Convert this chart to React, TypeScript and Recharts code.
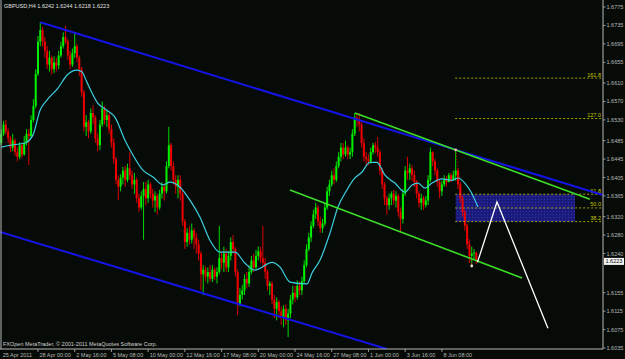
import {
  Bar,
  ComposedChart,
  Line,
  ReferenceArea,
  ReferenceDot,
  ReferenceLine,
  XAxis,
  YAxis,
} from "recharts"

// prices are stored as the last four digits (6500 -> 1.6500)
const px = (v: number) => 1 + v / 10000

const firstOpen = 6480
const high = [
  6510, 6528, 6530, 6512, 6495, 6500, 6490, 6470, 6482, 6480, 6495, 6510, 6510, 6540, 6575, 6640,
  6712, 6742, 6732, 6710, 6690, 6680, 6670, 6668, 6665, 6680, 6700, 6720, 6734, 6705, 6680, 6685,
  6718, 6695, 6670, 6645, 6595, 6540, 6530, 6555, 6562, 6540, 6500, 6530, 6570, 6560, 6550, 6545,
  6520, 6490, 6450, 6410, 6412, 6428, 6430, 6435, 6460, 6420, 6415, 6405, 6370, 6375, 6395, 6395,
  6400, 6395, 6380, 6375, 6370, 6378, 6395, 6392, 6440, 6515, 6480, 6440, 6410, 6410, 6410, 6375,
  6315, 6295, 6300, 6305, 6295, 6285, 6270, 6245, 6215, 6212, 6210, 6215, 6215, 6210, 6210, 6300,
  6245, 6255, 6250, 6245, 6275, 6280, 6255, 6205, 6165, 6172, 6195, 6200, 6215, 6235, 6240, 6248,
  6255, 6255, 6300, 6230, 6205, 6180, 6180, 6150, 6145, 6140, 6125, 6128, 6130, 6120, 6150, 6170,
  6170, 6182, 6180, 6190, 6225, 6260, 6285, 6310, 6335, 6350, 6345, 6320, 6315, 6350, 6385, 6400,
  6420, 6425, 6440, 6460, 6480, 6480, 6485, 6475, 6470, 6510, 6545, 6545, 6545, 6525, 6490, 6460,
  6455, 6470, 6480, 6482, 6493, 6465, 6425, 6395, 6365, 6370, 6375, 6378, 6375, 6370, 6340, 6380,
  6430, 6450, 6435, 6432, 6420, 6400, 6375, 6370, 6365, 6365, 6410, 6470, 6462, 6445, 6425, 6400,
  6398, 6410, 6408, 6415, 6415, 6420, 6465, 6425, 6395, 6365, 6335, 6305, 6270, 6255, 6250, 6244,
]
const low = [
  6475, 6495, 6498, 6480, 6460, 6462, 6452, 6440, 6445, 6448, 6452, 6475, 6432, 6490, 6525, 6555,
  6625, 6690, 6690, 6665, 6640, 6635, 6628, 6632, 6635, 6640, 6665, 6685, 6695, 6660, 6640, 6645,
  6665, 6655, 6625, 6580, 6505, 6495, 6490, 6500, 6520, 6480, 6462, 6465, 6515, 6520, 6515, 6500,
  6470, 6435, 6390, 6356, 6375, 6390, 6385, 6395, 6400, 6380, 6370, 6350, 6330, 6335, 6270, 6345,
  6350, 6360, 6340, 6330, 6325, 6335, 6360, 6355, 6370, 6425, 6420, 6390, 6370, 6360, 6355, 6300,
  6250, 6255, 6260, 6262, 6250, 6240, 6225, 6160, 6150, 6180, 6175, 6180, 6178, 6182, 6175, 6195,
  6205, 6200, 6200, 6200, 6225, 6240, 6190, 6106, 6125, 6140, 6150, 6165, 6168, 6195, 6200, 6205,
  6225, 6220, 6210, 6185, 6160, 6150, 6130, 6100, 6095, 6100, 6085, 6080, 6085, 6059, 6100, 6130,
  6135, 6140, 6150, 6150, 6175, 6210, 6245, 6265, 6295, 6315, 6300, 6285, 6285, 6300, 6335, 6365,
  6385, 6390, 6395, 6425, 6440, 6445, 6450, 6445, 6445, 6450, 6495, 6515, 6505, 6470, 6440, 6430,
  6432, 6435, 6455, 6458, 6450, 6410, 6380, 6345, 6325, 6335, 6345, 6345, 6340, 6320, 6285, 6305,
  6365, 6400, 6400, 6398, 6385, 6360, 6340, 6335, 6335, 6340, 6345, 6395, 6430, 6410, 6385, 6360,
  6365, 6385, 6385, 6395, 6395, 6400, 6398, 6380, 6350, 6320, 6290, 6250, 6220, 6213, 6228, 6218,
]
const close = [
  6500, 6520, 6505, 6490, 6470, 6485, 6460, 6450, 6475, 6455, 6480, 6500, 6495, 6530, 6560, 6630,
  6700, 6725, 6700, 6680, 6650, 6665, 6640, 6655, 6648, 6670, 6690, 6710, 6700, 6670, 6650, 6675,
  6690, 6665, 6640, 6590, 6515, 6525, 6505, 6545, 6535, 6490, 6475, 6520, 6555, 6530, 6540, 6510,
  6480, 6445, 6400, 6385, 6405, 6420, 6400, 6425, 6410, 6390, 6400, 6360, 6340, 6365, 6380, 6360,
  6390, 6370, 6355, 6365, 6340, 6370, 6385, 6375, 6430, 6475, 6430, 6400, 6385, 6400, 6370, 6310,
  6265, 6285, 6270, 6290, 6275, 6260, 6240, 6195, 6205, 6190, 6200, 6185, 6205, 6190, 6200, 6230,
  6220, 6240, 6210, 6235, 6265, 6250, 6200, 6130, 6150, 6160, 6185, 6175, 6200, 6225, 6210, 6235,
  6245, 6230, 6220, 6200, 6170, 6175, 6140, 6120, 6135, 6115, 6100, 6120, 6095, 6110, 6140, 6155,
  6145, 6170, 6160, 6180, 6215, 6250, 6275, 6300, 6325, 6340, 6310, 6295, 6305, 6340, 6375, 6390,
  6410, 6400, 6430, 6450, 6470, 6455, 6470, 6455, 6460, 6500, 6535, 6530, 6520, 6480, 6450, 6445,
  6440, 6460, 6475, 6470, 6460, 6420, 6390, 6360, 6345, 6360, 6370, 6355, 6365, 6330, 6315, 6370,
  6420, 6415, 6425, 6410, 6395, 6370, 6350, 6360, 6345, 6355, 6400, 6460, 6440, 6420, 6395, 6375,
  6390, 6400, 6395, 6410, 6400, 6410, 6420, 6390, 6360, 6330, 6300, 6260, 6235, 6240, 6242, 6223,
]

// moving average, read at points along the cyan line
const maBar = [
  0, 3.8, 10.3, 13.8, 16.9, 19.9, 24.7, 28.6, 33, 35.2, 37.3, 42.1, 46, 49.5, 53.9, 56.1, 61.7,
  66.1, 70.5, 73.5, 77.9, 82.2, 86.6, 90.9, 95.3, 101.8, 106.2, 110.5, 118, 121.4, 125.8, 133.2,
  135.4, 138.9, 143.2, 146.7, 150.6, 154.1, 157.2, 160.6, 163.7, 167.2, 171.5, 175.9, 179, 181.6,
  184.6, 187.7, 192, 196.4, 199, 202, 205, 207.7,
]
const maPips = [
  6471, 6475, 6480, 6497, 6551, 6573, 6599, 6627, 6638, 6634, 6612, 6566, 6551, 6536, 6486, 6465,
  6421, 6406, 6389, 6395, 6384, 6356, 6319, 6269, 6243, 6243, 6219, 6204, 6221, 6211, 6178, 6174,
  6198, 6226, 6284, 6341, 6378, 6404, 6417, 6438, 6438, 6410, 6393, 6373, 6389, 6393, 6382, 6393,
  6402, 6399, 6404, 6393, 6371, 6341,
]

// projection drawn in white
const projBar = [207.5, 216, 238.2]
const projPips = [6221, 6352, 6078]

// fibonacci retracement
const fibHigh = 6465
const fibLow = 6213
const fibLevels = [38.2, 50, 61.8, 127, 161.8]

const priceTicks = [
  6775, 6735, 6695, 6655, 6610, 6570, 6530, 6485, 6445, 6405, 6365, 6320, 6280, 6240, 6155, 6115,
  6075, 6035,
]
const timeBars = [0, 16, 32, 48, 64, 80, 96, 112, 128, 144, 160, 176, 192]
const timeLabels = [
  "25 Apr 2011",
  "28 Apr 00:00",
  "2 May 16:00",
  "5 May 08:00",
  "10 May 00:00",
  "12 May 16:00",
  "17 May 08:00",
  "20 May 00:00",
  "24 May 16:00",
  "27 May 08:00",
  "1 Jun 00:00",
  "3 Jun 16:00",
  "8 Jun 08:00",
]

const BG = "#070b07"
const AXIS = "#b8b8b8"
const FONT = "'Liberation Sans', Arial, sans-serif"
const FS = 5.5

const candles = close.map((c, i) => ({
  i,
  o: px(i === 0 ? firstOpen : close[i - 1]),
  h: px(high[i]),
  l: px(low[i]),
  c: px(c),
}))
const maRows = maBar.map((b, k) => ({ i: b, v: px(maPips[k]) }))
const projRows = projBar.map((b, k) => ({ i: b, v: px(projPips[k]) }))
const fibPrice = (lvl: number) => px(fibLow + ((fibHigh - fibLow) * lvl) / 100)

function Candle(props: any) {
  const { x, y, width, height, payload } = props
  if (!payload || height == null || isNaN(y)) return null
  const { o, h, l, c } = payload
  const top = Math.min(y, y + height)
  const span = Math.abs(height)
  const k = span / (h - l)
  const cx = x + width / 2
  const yo = top + (h - o) * k
  const yc = top + (h - c) * k
  const color = c >= o ? "#00f000" : "#f00000"
  const bt = Math.min(yo, yc)
  const bh = Math.max(Math.abs(yo - yc), 0.8)
  return (
    <g>
      <line x1={cx} x2={cx} y1={top} y2={top + span} stroke={color} strokeWidth={0.9} />
      <rect x={cx - 1} y={bt} width={2} height={bh} fill={color} />
    </g>
  )
}

function TimeTick(props: any) {
  const { x, y, payload } = props
  const label = timeLabels[timeBars.indexOf(payload.value)]
  return (
    <g>
      {payload.value > 0 && <line x1={x} x2={x} y1={y} y2={y + 3} stroke={AXIS} strokeWidth={0.8} />}
      <text x={x + 1.5} y={y + 8} fontSize={FS} fontFamily={FONT} fill={AXIS}>
        {label}
      </text>
    </g>
  )
}

function PriceTick(props: any) {
  const { x, y, payload } = props
  return (
    <g>
      <line x1={x} x2={x + 2.5} y1={y} y2={y} stroke={AXIS} strokeWidth={0.8} />
      <text x={x + 3.5} y={y + 2} fontSize={FS} fontFamily={FONT} fill={AXIS}>
        {payload.value.toFixed(4)}
      </text>
    </g>
  )
}

function PriceBox(props: any) {
  const vb = props.viewBox
  if (!vb) return null
  const x = vb.x + vb.width + 1
  return (
    <g>
      <rect x={x} y={vb.y - 3.5} width={20} height={7} fill="#f4f4f4" />
      <text x={x + 1.5} y={vb.y + 2} fontSize={FS} fontFamily={FONT} fill="#000">
        1.6223
      </text>
    </g>
  )
}

function fibLabel(text: string) {
  return (p: any) => {
    const vb = p.viewBox
    if (!vb) return null
    return (
      <text
        x={vb.x + vb.width - 2}
        y={vb.y - 1.5}
        textAnchor="end"
        fontSize={FS}
        fontFamily={FONT}
        fill="#c8c800"
      >
        {text}
      </text>
    )
  }
}

export default function App() {
  return (
    <div
      style={{ position: "absolute", left: 0, top: 0, width: 625, height: 359, background: BG }}
    >
      <ComposedChart
        width={625}
        height={359}
        data={candles}
        margin={{ top: 0, right: 0, bottom: 0, left: 0 }}
      >
        <defs>
          <pattern id="fibDots" width="3" height="3" patternUnits="userSpaceOnUse">
            <rect width="3" height="3" fill="#1a1a7c" />
            <rect x="1" y="1" width="1" height="1" fill="#3636a6" />
          </pattern>
        </defs>
        <XAxis
          type="number"
          dataKey="i"
          domain={[-0.56, 262.2]}
          allowDataOverflow
          ticks={timeBars}
          interval={0}
          tick={<TimeTick />}
          tickLine={false}
          tickSize={0}
          tickMargin={0}
          axisLine={{ stroke: AXIS }}
          height={10}
        />
        <YAxis
          orientation="right"
          type="number"
          domain={[1.60329, 1.67902]}
          allowDataOverflow
          ticks={priceTicks.map(px)}
          interval={0}
          tick={<PriceTick />}
          tickLine={false}
          tickSize={0}
          tickMargin={0}
          axisLine={{ stroke: AXIS }}
          width={22}
        />
        <ReferenceArea
          x1={198}
          x2={250}
          y1={fibPrice(38.2)}
          y2={fibPrice(61.8)}
          fill="url(#fibDots)"
          fillOpacity={1}
          stroke="none"
        />
        {fibLevels.map((lvl) => (
          <ReferenceLine
            key={lvl}
            segment={[
              { x: 197.8, y: fibPrice(lvl) },
              { x: 262.2, y: fibPrice(lvl) },
            ]}
            stroke="#b4b400"
            strokeDasharray="2 2"
            strokeWidth={0.9}
            label={fibLabel(lvl.toFixed(1))}
          />
        ))}
        <Bar
          dataKey={(d: any) => [d.l, d.h]}
          barSize={2}
          shape={(p: any) => <Candle {...p} />}
          isAnimationActive={false}
        />
        <Line
          data={maRows}
          dataKey="v"
          type="monotone"
          stroke="#3ccfe0"
          strokeWidth={1.2}
          dot={false}
          activeDot={false}
          isAnimationActive={false}
        />
        <ReferenceLine
          segment={[
            { x: 17, y: px(6742) },
            { x: 262.2, y: px(6367) },
          ]}
          stroke="#1414e6"
          strokeWidth={2}
          ifOverflow="hidden"
        />
        <ReferenceLine
          segment={[
            { x: -0.56, y: px(6287) },
            { x: 168, y: px(6033) },
          ]}
          stroke="#1414e6"
          strokeWidth={2}
          ifOverflow="hidden"
        />
        <ReferenceLine
          segment={[
            { x: 154.1, y: px(6545) },
            { x: 256.5, y: px(6358) },
          ]}
          stroke="#3cdc28"
          strokeWidth={1.6}
          ifOverflow="hidden"
        />
        <ReferenceLine
          segment={[
            { x: 125.8, y: px(6378) },
            { x: 226.9, y: px(6187) },
          ]}
          stroke="#3cdc28"
          strokeWidth={1.6}
          ifOverflow="hidden"
        />
        <ReferenceLine
          segment={[
            { x: 198, y: px(fibHigh) },
            { x: 205, y: px(fibLow) },
          ]}
          stroke="#e00000"
          strokeDasharray="1 2"
          strokeWidth={1}
        />
        <Line
          data={projRows}
          dataKey="v"
          type="linear"
          stroke="#ffffff"
          strokeWidth={1.3}
          dot={false}
          activeDot={false}
          isAnimationActive={false}
        />
        <ReferenceDot x={198} y={px(fibHigh)} r={1.4} fill="#ffb4b4" stroke="none" />
        <ReferenceDot x={205} y={px(fibLow)} r={1.4} fill="#ffd0d0" stroke="none" />
        <ReferenceLine
          y={px(6223)}
          stroke="none"
          ifOverflow="visible"
          label={(p: any) => <PriceBox {...p} />}
        />
      </ComposedChart>
      <svg
        width={625}
        height={359}
        style={{ position: "absolute", left: 0, top: 0, pointerEvents: "none" }}
      >
        <line x1={1} x2={1} y1={0} y2={349} stroke={AXIS} strokeWidth={1} />
        <text x={4} y={8} fontSize={FS} fontFamily={FONT} fill="#e0e0e0">
          GBPUSD,H4 1.6242 1.6244 1.6218 1.6223
        </text>
        <text x={3} y={346} fontSize={FS} fontFamily={FONT} fill="#d0d0d0">
          FXOpen MetaTrader, © 2001-2011 MetaQuotes Software Corp.
        </text>
      </svg>
    </div>
  )
}
